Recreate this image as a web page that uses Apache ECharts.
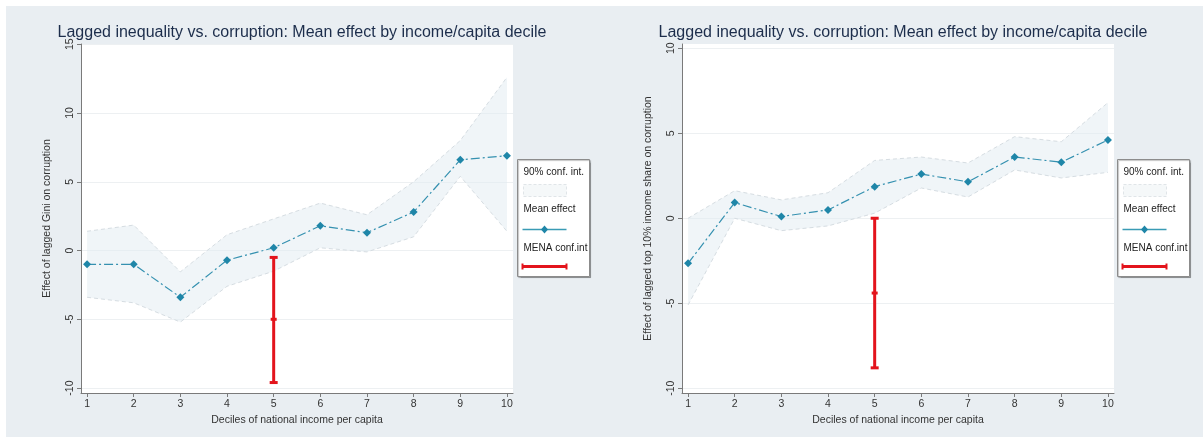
<!DOCTYPE html>
<html>
<head>
<meta charset="utf-8">
<script src="https://cdn.jsdelivr.net/npm/echarts@6/dist/echarts.min.js"></script>
<style>
  body { margin: 0; background: #fff; }
  #panel { position: absolute; left: 6px; top: 6px; width: 1197px; height: 431px; background: #e9eef2; }
  #chart { position: absolute; left: 0; top: 0; width: 1203px; height: 437px; }
</style>
</head>
<body>
<div id="panel"></div>
<div id="chart"></div>
<script>
const deciles = [1, 2, 3, 4, 5, 6, 7, 8, 9, 10]
const yTicksGini = [-10, -5, 0, 5, 10, 15]
const yTicksTop10 = [-10, -5, 0, 5, 10]

// left: Gini
const meanGini = [-1.0, -1.0, -3.4, -0.7, 0.2, 1.8, 1.3, 2.8, 6.6, 6.9]
const upperGini = [1.4, 1.85, -1.55, 1.15, 2.3, 3.45, 2.6, 5.0, 8.0, 12.6]
const lowerGini = [-3.4, -3.8, -5.2, -2.6, -1.5, 0.2, -0.1, 1.0, 5.4, 1.4]
const menaGini = [5, -9.6, -5.0, -0.5] // decile, low, mid, high

// right: top 10% share
const meanTop10 = [-2.65, 0.92, 0.1, 0.49, 1.86, 2.6, 2.14, 3.6, 3.3, 4.6]
const upperTop10 = [0.0, 1.62, 1.08, 1.5, 3.4, 3.6, 3.25, 4.8, 4.5, 6.8]
const lowerTop10 = [-5.1, 0.0, -0.73, -0.45, 0.3, 1.78, 1.25, 2.84, 2.37, 2.7]
const menaTop10 = [5, -8.8, -4.4, 0.0]

const FONT = '"Liberation Sans", Arial, sans-serif'
const TEAL = '#1f86a8'
const RED = '#e3141c'
const TXT = '#333'

const chart = echarts.init(document.getElementById('chart'))

const xAxisOf = (gi) => ({
  type: 'value', gridIndex: gi, min: 0.87, max: 10.13,
  name: 'Deciles of national income per capita',
  nameLocation: 'middle', nameGap: 19,
  nameTextStyle: { color: TXT, fontSize: 10.5, fontFamily: FONT },
  axisLine: { show: true, onZero: false, lineStyle: { color: '#7a7a7a', width: 1 } },
  axisTick: { show: true, length: 4, customValues: deciles, lineStyle: { color: '#7a7a7a' } },
  axisLabel: { customValues: deciles, color: TXT, fontSize: 10.5, fontFamily: FONT, margin: 6 },
  splitLine: { show: false }
})

const yAxisOf = (gi, min, max, ticks, name) => ({
  type: 'value', gridIndex: gi, min, max,
  name, nameLocation: 'middle', nameGap: 28,
  nameTextStyle: { color: TXT, fontSize: 10.5, fontFamily: FONT },
  axisLine: { show: true, onZero: false, lineStyle: { color: '#7a7a7a', width: 1 } },
  axisTick: { show: true, length: 4, customValues: ticks, lineStyle: { color: '#7a7a7a' } },
  axisLabel: { customValues: ticks, rotate: 90, color: TXT, fontSize: 10.5, fontFamily: FONT, margin: 5 },
  splitLine: { show: true, lineStyle: { color: '#edf0f2', width: 1 } }
})

const bandSeries = (gi, lower, upper) => ({
  type: 'custom', xAxisIndex: gi, yAxisIndex: gi, silent: true, z: 1,
  data: deciles.map((d, i) => [d, lower[i], upper[i]]),
  encode: { x: 0, y: [1, 2] },
  renderItem: (params, api) => {
    if (params.dataIndex !== 0) return null
    const pts = []
    deciles.forEach((d, i) => pts.push(api.coord([d, upper[i]])))
    for (let i = deciles.length - 1; i >= 0; i--) pts.push(api.coord([deciles[i], lower[i]]))
    return { type: 'polygon', shape: { points: pts }, style: { fill: 'rgba(226,235,241,0.5)' } }
  }
})

const edgeSeries = (gi, vals) => ({
  type: 'line', xAxisIndex: gi, yAxisIndex: gi, silent: true, z: 2,
  data: deciles.map((d, i) => [d, vals[i]]),
  symbol: 'none',
  lineStyle: { color: '#d6dde2', width: 1, type: [4, 3] }
})

const meanSeries = (gi, vals) => ({
  type: 'line', xAxisIndex: gi, yAxisIndex: gi, z: 4,
  data: deciles.map((d, i) => [d, vals[i]]),
  symbol: 'diamond', symbolSize: 8,
  itemStyle: { color: TEAL },
  lineStyle: { color: '#3591b0', width: 1.2, type: [9, 3, 2, 3] }
})

const menaSeries = (gi, m) => ({
  type: 'custom', xAxisIndex: gi, yAxisIndex: gi, z: 5, silent: true,
  data: [m],
  encode: { x: 0, y: [1, 3] },
  renderItem: (params, api) => {
    const lo = api.coord([api.value(0), api.value(1)])
    const mid = api.coord([api.value(0), api.value(2)])
    const hi = api.coord([api.value(0), api.value(3)])
    const st = { stroke: RED, lineWidth: 3 }
    const cap = (p, w) => ({ type: 'line', shape: { x1: p[0] - w, y1: p[1], x2: p[0] + w, y2: p[1] }, style: st })
    return {
      type: 'group',
      children: [
        { type: 'line', shape: { x1: lo[0], y1: lo[1], x2: hi[0], y2: hi[1] }, style: st },
        cap(lo, 4), cap(hi, 4), cap(mid, 3)
      ]
    }
  }
})

const legendBox = (x0) => ({
  type: 'group', left: x0, top: 159,
  children: [
    { type: 'rect', shape: { x: 0, y: 0, width: 72, height: 117 },
      style: { fill: '#fff', stroke: '#8c8c8c', lineWidth: 1, shadowBlur: 1, shadowColor: 'rgba(0,0,0,0.25)', shadowOffsetX: 1, shadowOffsetY: 1 } },
    { type: 'text', x: 6, y: 13, style: { text: '90% conf. int.', fill: '#222', font: '10px ' + FONT, verticalAlign: 'middle' } },
    { type: 'rect', shape: { x: 6, y: 25, width: 43, height: 12 },
      style: { fill: '#f5f8f9', stroke: '#e0e5e8', lineWidth: 1, lineDash: [3, 2] } },
    { type: 'text', x: 6, y: 50, style: { text: 'Mean effect', fill: '#222', font: '10px ' + FONT, verticalAlign: 'middle' } },
    { type: 'line', shape: { x1: 5, y1: 70, x2: 49, y2: 70 }, style: { stroke: '#3a9bb5', lineWidth: 1.4 } },
    { type: 'polygon', shape: { points: [[27, 66], [30.5, 70], [27, 74], [23.5, 70]] }, style: { fill: TEAL } },
    { type: 'text', x: 6, y: 89, style: { text: 'MENA conf.int', fill: '#222', font: '10px ' + FONT, verticalAlign: 'middle' } },
    { type: 'line', shape: { x1: 5, y1: 107, x2: 49, y2: 107 }, style: { stroke: RED, lineWidth: 3 } },
    { type: 'line', shape: { x1: 5, y1: 104, x2: 5, y2: 110 }, style: { stroke: RED, lineWidth: 2 } },
    { type: 'line', shape: { x1: 49, y1: 104, x2: 49, y2: 110 }, style: { stroke: RED, lineWidth: 2 } }
  ]
})

const titleText = 'Lagged inequality vs. corruption: Mean effect by income/capita decile'

chart.setOption({
  backgroundColor: 'transparent',
  animation: false,
  title: [
    { text: titleText, left: 297, top: 20, textAlign: 'center',
      textStyle: { color: '#1c2d4b', fontSize: 16, fontWeight: 'normal', fontFamily: FONT } },
    { text: titleText, left: 898, top: 20, textAlign: 'center',
      textStyle: { color: '#1c2d4b', fontSize: 16, fontWeight: 'normal', fontFamily: FONT } }
  ],
  grid: [
    { left: 81, top: 44, width: 432, height: 349, show: true, backgroundColor: '#fff', borderWidth: 0 },
    { left: 682, top: 44, width: 432, height: 349, show: true, backgroundColor: '#fff', borderWidth: 0 }
  ],
  xAxis: [xAxisOf(0), xAxisOf(1)],
  yAxis: [
    yAxisOf(0, -10.36, 15.02, yTicksGini, 'Effect of lagged Gini on corruption'),
    yAxisOf(1, -10.28, 10.25, yTicksTop10, 'Effect of lagged top 10% income share on corruption')
  ],
  series: [
    bandSeries(0, lowerGini, upperGini),
    edgeSeries(0, upperGini),
    edgeSeries(0, lowerGini),
    meanSeries(0, meanGini),
    menaSeries(0, menaGini),
    bandSeries(1, lowerTop10, upperTop10),
    edgeSeries(1, upperTop10),
    edgeSeries(1, lowerTop10),
    meanSeries(1, meanTop10),
    menaSeries(1, menaTop10)
  ],
  graphic: [legendBox(517), legendBox(1117)]
})
</script>
</body>
</html>
